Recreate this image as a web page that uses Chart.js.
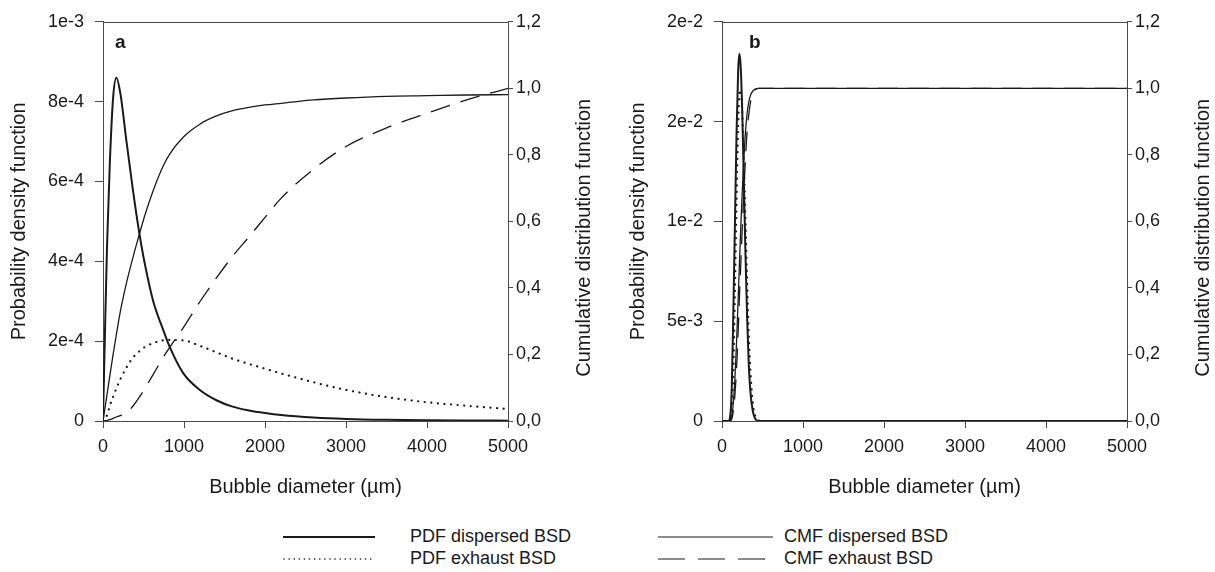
<!DOCTYPE html>
<html lang="en">
<head>
  <meta charset="UTF-8" />
  <title>Bubble size distributions</title>
  <script src="https://cdn.jsdelivr.net/npm/chart.js"></script>
  <style>
    body {
      margin: 0;
      background: #ffffff;
      width: 1215px;
      height: 572px;
      overflow: hidden;
      font-family: "Liberation Sans", Arial, sans-serif;
      color: #1a1a1a;
    }
    canvas { position: absolute; top: 0; }
    #panelA { left: 0; }
    #panelB { left: 607px; }
    .key { position: absolute; font-size: 18px; line-height: 20px; white-space: nowrap; }
    .key svg { position: absolute; }
  </style>
</head>
<body>

<canvas id="panelA" width="607" height="515"></canvas>
<canvas id="panelB" width="608" height="515"></canvas>

<div class="key" style="left:283px; top:526px;"><svg width="92" height="4" style="top:9px"><line x1="0" y1="2" x2="92" y2="2" stroke="#1a1a1a" stroke-width="2"/></svg><span style="position:absolute; left:127px;">PDF dispersed BSD</span></div>
<div class="key" style="left:283px; top:548px;"><svg width="92" height="4" style="top:9px"><line x1="1" y1="2" x2="92" y2="2" stroke="#1a1a1a" stroke-width="1.6" stroke-dasharray="0.1 5" stroke-linecap="round"/></svg><span style="position:absolute; left:127px;">PDF exhaust BSD</span></div>
<div class="key" style="left:658px; top:526px;"><svg width="115" height="4" style="top:9px"><line x1="0" y1="2" x2="115" y2="2" stroke="#1a1a1a" stroke-width="1.2"/></svg><span style="position:absolute; left:126px;">CMF dispersed BSD</span></div>
<div class="key" style="left:658px; top:548px;"><svg width="115" height="4" style="top:9px"><line x1="0" y1="2" x2="115" y2="2" stroke="#1a1a1a" stroke-width="1.2" stroke-dasharray="27 13"/></svg><span style="position:absolute; left:126px;">CMF exhaust BSD</span></div>

<script>
  // ---- panel a : values (bubble diameter in µm)
  const diamA    = [0, 25, 50, 85, 125, 165, 215, 290, 370, 445, 515, 620, 740, 825, 990, 1200, 1400, 1600, 1800, 2000, 2200, 2600, 3000, 3500, 4000, 4500, 5000];
  const pdfDispA = [0, 2.3e-4, 4.4e-4, 6.5e-4, 8.1e-4, 8.6e-4, 8.2e-4, 7.0e-4, 5.78e-4, 4.75e-4, 3.95e-4, 3.0e-4, 2.3e-4, 1.85e-4, 1.2e-4, 7.7e-5, 5.2e-5, 3.6e-5, 2.65e-5, 2.0e-5, 1.5e-5, 8.8e-6, 5.2e-6, 3e-6, 1.9e-6, 1.3e-6, 9e-7];
  const pdfExhA  = [0, 5e-6, 1.5e-5, 3.8e-5, 6.1e-5, 8.2e-5, 1.05e-4, 1.34e-4, 1.59e-4, 1.74e-4, 1.85e-4, 1.95e-4, 2.02e-4, 2.03e-4, 2.02e-4, 1.88e-4, 1.72e-4, 1.56e-4, 1.43e-4, 1.31e-4, 1.19e-4, 9.7e-5, 7.8e-5, 6.0e-5, 4.7e-5, 3.8e-5, 3.0e-5];
  const cmfDispA = [0, 0.04, 0.08, 0.137, 0.2, 0.26, 0.33, 0.415, 0.492, 0.558, 0.617, 0.693, 0.765, 0.803, 0.853, 0.893, 0.917, 0.933, 0.943, 0.95, 0.955, 0.965, 0.971, 0.976, 0.978, 0.98, 0.981];
  const cmfExhA  = [0, 0.001, 0.002, 0.004, 0.008, 0.012, 0.016, 0.025, 0.045, 0.07, 0.097, 0.14, 0.19, 0.222, 0.28, 0.36, 0.43, 0.495, 0.553, 0.612, 0.67, 0.757, 0.825, 0.881, 0.925, 0.966, 1.0];

  // ---- panel b
  const diamB    = [0, 80, 100, 120, 140, 160, 180, 200, 215, 230, 250, 270, 290, 310, 330, 350, 380, 410, 450, 500, 1000, 2000, 3000, 4000, 5000];
  const pdfDispB = [0, 0, 2e-4, 1.6e-3, 5.5e-3, 1.0e-2, 1.45e-2, 1.76e-2, 1.84e-2, 1.78e-2, 1.55e-2, 1.2e-2, 8.3e-3, 5.2e-3, 2.9e-3, 1.5e-3, 5e-4, 1.2e-4, 0, 0, 0, 0, 0, 0, 0];
  const pdfExhB  = [0, 0, 0, 4e-4, 2.5e-3, 6.5e-3, 1.1e-2, 1.48e-2, 1.64e-2, 1.66e-2, 1.55e-2, 1.3e-2, 1.0e-2, 7e-3, 4.4e-3, 2.6e-3, 9e-4, 2.5e-4, 3e-5, 0, 0, 0, 0, 0, 0];
  const cmfDispB = [0, 0, 0.002, 0.015, 0.055, 0.13, 0.24, 0.37, 0.47, 0.57, 0.69, 0.79, 0.87, 0.925, 0.958, 0.978, 0.992, 0.998, 1, 1, 1, 1, 1, 1, 1];
  const cmfExhB  = [0, 0, 0, 0.005, 0.03, 0.08, 0.16, 0.27, 0.37, 0.46, 0.58, 0.69, 0.79, 0.87, 0.92, 0.955, 0.985, 0.996, 1, 1, 1, 1, 1, 1, 1];

  // ---- ticks
  const xTicks      = [0, 1000, 2000, 3000, 4000, 5000];
  const pdfTicksA   = [0, 2e-4, 4e-4, 6e-4, 8e-4, 1e-3];
  const pdfLabelsA  = ['0', '2e-4', '4e-4', '6e-4', '8e-4', '1e-3'];
  const pdfTicksB   = [0, 5e-3, 1e-2, 1.5e-2, 2e-2];
  const pdfLabelsB  = ['0', '5e-3', '1e-2', '2e-2', '2e-2'];
  const cmfTicks    = [0, 0.2, 0.4, 0.6, 0.8, 1.0, 1.2];
  const cmfLabels   = ['0,0', '0,2', '0,4', '0,6', '0,8', '1,0', '1,2'];

  const ink = '#1a1a1a';
  const axisInk = '#4a4a4a';
  const fontFamily = '"Liberation Sans", Arial, sans-serif';

  const pts = (xs, ys) => xs.map((x, i) => ({ x: x, y: ys[i] }));

  // frame top line, panel letter and axis titles
  const decor = {
    id: 'decor',
    afterDraw(chart, args, o) {
      const { ctx, chartArea: a } = chart;
      ctx.save();
      ctx.strokeStyle = axisInk;
      ctx.lineWidth = 1;
      ctx.beginPath();
      ctx.moveTo(a.left, Math.round(a.top) + 0.5);
      ctx.lineTo(a.right, Math.round(a.top) + 0.5);
      ctx.stroke();

      ctx.fillStyle = ink;
      ctx.font = 'bold 19px ' + fontFamily;
      ctx.textAlign = 'left';
      ctx.textBaseline = 'alphabetic';
      ctx.fillText(o.letter, a.left + o.letterDx, a.top + 26);

      ctx.font = '20px ' + fontFamily;
      ctx.textAlign = 'center';
      ctx.textBaseline = 'middle';
      ctx.fillText(o.xTitle, (a.left + a.right) / 2, a.bottom + 66);

      ctx.save();
      ctx.translate(a.left - 84, (a.top + a.bottom) / 2);
      ctx.rotate(-Math.PI / 2);
      ctx.fillText(o.yTitle, 0, 0);
      ctx.restore();

      ctx.save();
      ctx.translate(a.right + 76, a.top + 216);
      ctx.rotate(-Math.PI / 2);
      ctx.fillText(o.y2Title, 0, 0);
      ctx.restore();
      ctx.restore();
    }
  };

  function makePanel(id, cfg) {
    const line = (label, xs, ys, axis, extra) => Object.assign({
      label: label,
      data: pts(xs, ys),
      yAxisID: axis,
      borderColor: ink,
      pointRadius: 0,
      fill: false,
      cubicInterpolationMode: 'monotone'
    }, extra);

    return new Chart(document.getElementById(id), {
      type: 'line',
      data: {
        datasets: [
          line('PDF dispersed BSD', cfg.diam, cfg.pdfDisp, 'y', { borderWidth: 2 }),
          line('PDF exhaust BSD', cfg.diam, cfg.pdfExh, 'y', { borderWidth: 2.2, borderDash: [0.1, 6.5], borderCapStyle: 'round' }),
          line('CMF dispersed BSD', cfg.diam, cfg.cmfDisp, 'y2', { borderWidth: 1.3 }),
          line('CMF exhaust BSD', cfg.diam, cfg.cmfExh, 'y2', { borderWidth: 1.3, borderDash: [20, 11] })
        ]
      },
      options: {
        responsive: false,
        animation: false,
        layout: { padding: { top: 16, left: 0, right: 0, bottom: 0 } },
        plugins: {
          legend: { display: false },
          tooltip: { enabled: false },
          decor: cfg.decor
        },
        scales: {
          x: {
            type: 'linear',
            min: 0,
            max: 5000,
            afterBuildTicks: s => { s.ticks = xTicks.map(v => ({ value: v })); },
            afterFit: s => { s.height = 515 - 421; },
            ticks: { color: ink, font: { family: fontFamily, size: 18 }, padding: 8, maxRotation: 0,
                     callback: v => String(v) },
            grid: { drawOnChartArea: false, tickLength: 7, color: axisInk },
            border: { color: axisInk }
          },
          y: {
            position: 'left',
            min: 0,
            max: cfg.pdfMax,
            afterBuildTicks: s => { s.ticks = cfg.pdfTicks.map(v => ({ value: v })); },
            afterFit: s => { s.width = cfg.leftW; },
            ticks: { color: ink, font: { family: fontFamily, size: 18 }, padding: 11,
                     callback: (v, i) => cfg.pdfLabels[i] },
            grid: { drawOnChartArea: false, tickLength: 8, color: axisInk },
            border: { color: axisInk }
          },
          y2: {
            position: 'right',
            min: 0,
            max: 1.2,
            afterBuildTicks: s => { s.ticks = cmfTicks.map(v => ({ value: v })); },
            afterFit: s => { s.width = cfg.rightW; },
            ticks: { color: ink, font: { family: fontFamily, size: 18 }, padding: 3,
                     callback: (v, i) => cmfLabels[i] },
            grid: { drawOnChartArea: false, tickLength: 5, color: axisInk },
            border: { color: axisInk }
          }
        }
      },
      plugins: [decor]
    });
  }

  makePanel('panelA', {
    diam: diamA, pdfDisp: pdfDispA, pdfExh: pdfExhA, cmfDisp: cmfDispA, cmfExh: cmfExhA,
    pdfMax: 1e-3, pdfTicks: pdfTicksA, pdfLabels: pdfLabelsA,
    leftW: 103, rightW: 607 - 508,
    decor: { letter: 'a', letterDx: 12, xTitle: 'Bubble diameter (µm)',
             yTitle: 'Probability density function', y2Title: 'Cumulative distribution function' }
  });

  makePanel('panelB', {
    diam: diamB, pdfDisp: pdfDispB, pdfExh: pdfExhB, cmfDisp: cmfDispB, cmfExh: cmfExhB,
    pdfMax: 2e-2, pdfTicks: pdfTicksB, pdfLabels: pdfLabelsB,
    leftW: 722 - 607, rightW: 608 - (1127 - 607),
    decor: { letter: 'b', letterDx: 27, xTitle: 'Bubble diameter (µm)',
             yTitle: 'Probability density function', y2Title: 'Cumulative distribution function' }
  });
</script>

</body>
</html>
